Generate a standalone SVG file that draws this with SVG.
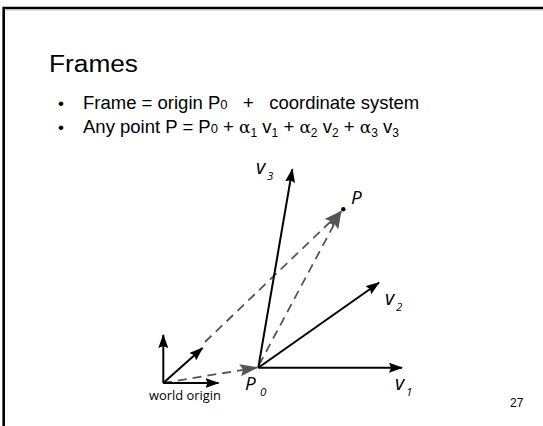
<svg xmlns="http://www.w3.org/2000/svg" width="543" height="426" viewBox="0 0 543 426">
<defs>
<style>
.t{font-family:"Liberation Sans",Arial,sans-serif;fill:#000}
.lab{font-family:"Open Sans","DejaVu Sans",sans-serif;font-style:italic;fill:#000}
.wo{font-family:"Open Sans","DejaVu Sans",sans-serif;font-style:normal;fill:#000}
.ax{stroke:#000;stroke-width:2;fill:none}
.dash{stroke:#555;stroke-width:1.8;stroke-dasharray:9 6;fill:none}
</style>
<marker id="ab" viewBox="0 0 14 10" refX="13" refY="5" markerWidth="14" markerHeight="10" markerUnits="userSpaceOnUse" orient="auto"><path d="M0,0 L14,5 L0,10 L2,5 Z" fill="#000"/></marker>
<marker id="ag" viewBox="0 0 18 12" refX="17" refY="6" markerWidth="18" markerHeight="12" markerUnits="userSpaceOnUse" orient="auto"><path d="M0,0 L18,6 L0,12 L3,6 Z" fill="#555"/></marker>
</defs>
<rect width="543" height="426" fill="#fff"/>
<path d="M3.7,430 V8 H550" stroke="#000" stroke-width="2.6" fill="none"/>
<line x1="5" y1="10" x2="543" y2="10" stroke="#bbb" stroke-width="0.8"/>
<g id="title"><text class="t" x="49" y="72" font-size="23" textLength="89" lengthAdjust="spacingAndGlyphs">Frames</text></g>
<g id="bullets">
<text class="t" x="58" y="109" font-size="17">•</text>
<text class="t" x="83" y="109" font-size="18.5" xml:space="preserve">Frame = origin P<tspan font-size="13">0</tspan>   +   coordinate system</text>
<text class="t" x="58" y="133" font-size="17">•</text>
<text class="t" x="83" y="133" font-size="18.5" xml:space="preserve">Any point P = P<tspan font-size="13">0</tspan> + <tspan font-family="'DejaVu Serif',serif" font-size="17">α</tspan><tspan font-size="12" dy="4">1</tspan><tspan dy="-4"> v</tspan><tspan font-size="12" dy="4">1</tspan><tspan dy="-4"> + </tspan><tspan font-family="'DejaVu Serif',serif" font-size="17">α</tspan><tspan font-size="12" dy="4">2</tspan><tspan dy="-4"> v</tspan><tspan font-size="12" dy="4">2</tspan><tspan dy="-4"> + </tspan><tspan font-family="'DejaVu Serif',serif" font-size="17">α</tspan><tspan font-size="12" dy="4">3</tspan><tspan dy="-4"> v</tspan><tspan font-size="12" dy="4">3</tspan></text>
</g>
<g id="connectors">
<line class="dash" x1="163" y1="383" x2="257" y2="367.5" marker-end="url(#ag)"/>
<line class="dash" x1="205" y1="342" x2="341" y2="211.5" marker-end="url(#ag)"/>
<line class="dash" x1="259" y1="365" x2="341" y2="211.5" marker-end="url(#ag)"/>
</g>
<g id="world-origin">
<line class="ax" x1="163.3" y1="383" x2="163.3" y2="335" marker-end="url(#ab)"/>
<line class="ax" x1="163.3" y1="383" x2="218.5" y2="383" marker-end="url(#ab)"/>
<line class="ax" x1="163.3" y1="383" x2="202.5" y2="348" marker-end="url(#ab)"/>
<text class="wo" x="185" y="400" font-size="13" text-anchor="middle" textLength="72" lengthAdjust="spacingAndGlyphs">world origin</text>
</g>
<g id="frame-P0">
<line class="ax" x1="258.3" y1="367.7" x2="402" y2="367.7" marker-end="url(#ab)"/>
<line class="ax" x1="258.3" y1="367.7" x2="379" y2="282.7" marker-end="url(#ab)"/>
<line class="ax" x1="258.3" y1="367.7" x2="292.3" y2="169.3" marker-end="url(#ab)"/>
<text class="lab" x="245" y="390" font-size="19">P</text><text class="lab" x="260" y="396" font-size="11.5">0</text>
<text class="lab" x="395" y="390" font-size="20">v</text><text class="lab" x="406" y="396" font-size="11.5">1</text>
<text class="lab" x="385" y="305" font-size="20">v</text><text class="lab" x="396" y="311" font-size="11.5">2</text>
<text class="lab" x="256" y="174" font-size="20">v</text><text class="lab" x="267" y="180" font-size="11.5">3</text>
</g>
<g id="point-P">
<circle cx="343.3" cy="209.3" r="2.2" fill="#000"/>
<text class="lab" x="351" y="204" font-size="19">P</text>
</g>
<g id="page"><text class="t" x="510" y="407" font-size="12">27</text></g>
</svg>
